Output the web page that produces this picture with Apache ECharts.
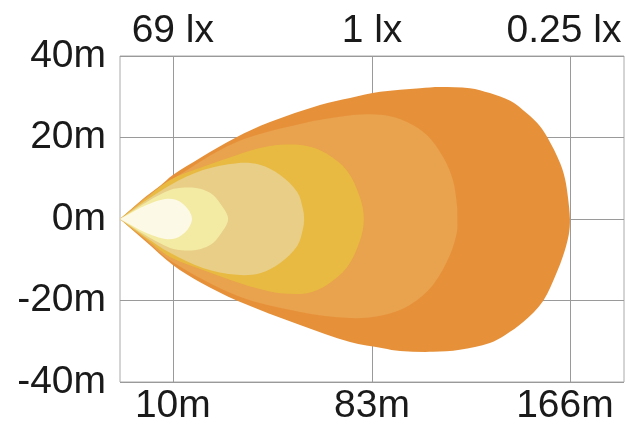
<!DOCTYPE html>
<html>
<head>
<meta charset="utf-8">
<script src="https://cdn.jsdelivr.net/npm/echarts@6/dist/echarts.min.js"></script>
<style>
html,body{margin:0;padding:0;background:#fff;}
#chart{width:640px;height:430px;}
</style>
</head>
<body>
<div id="chart"></div>
<script>
// Axis ticks (x in chart metres along the beam, drawn equal-aspect with y)
var xTickValues = [13.0, 62.0, 110.7];
var xTickLabels = ['10m', '83m', '166m'];
var luxLabels = ['69 lx', '1 lx', '0.25 lx'];
var yTicks = [-40, -20, 0, 20, 40];

// Isolux contours: outline points [x, y], starting and ending at the lamp
var contour025 = [[0,0],[2.5,2.2],[6.2,5.4],[9.8,8.1],[13.0,10.8],[19.7,15.0],[28.3,19.9],[36.9,23.8],[49.2,28.0],[56.6,29.7],[64.0,31.2],[73.8,32.1],[78.7,32.4],[86.1,32.1],[91.0,30.9],[96.0,29.0],[99.2,26.7],[102.6,23.6],[105.1,20.1],[108.3,13.7],[109.5,9.8],[110.2,5.4],[110.7,0],
  [110.4,-3.9],[109.0,-9.1],[107.5,-13.0],[104.1,-20.1],[99.2,-25.3],[94.7,-28.5],[91.0,-30.4],[83.6,-32.1],[77.0,-32.6],[68.9,-32.4],[64.7,-31.7],[56.6,-30.2],[44.3,-26.0],[29.0,-20.1],[19.7,-15.5],[13.0,-11.3],[6.2,-5.4],[2.5,-2.2],[0,0]];
var contour1 = [[0,0],[2.5,2.1],[6.2,5.2],[13.0,9.8],[28.3,18.7],[44.3,23.3],[57.3,25.5],[64.7,25.5],[70.6,23.8],[75.5,20.6],[79.5,15.2],[81.9,9.6],[82.9,3.4],[83.0,0],
  [82.9,-3.2],[81.2,-8.8],[77.0,-16.2],[71.3,-21.1],[64.7,-23.6],[56.6,-24.3],[44.3,-22.8],[29.0,-18.9],[13.0,-10.6],[6.2,-5.0],[2.5,-2.0],[0,0]];
var contour3 = [[0,0],[2.5,2.0],[6.2,4.9],[12.3,9.6],[20.4,12.8],[28.8,15.7],[34.4,17.4],[39.4,18.2],[46.0,17.9],[50.9,16.0],[55.9,11.8],[59.0,5.4],[60.0,0],
  [59.0,-5.4],[55.9,-11.8],[50.9,-16.2],[46.0,-18.2],[39.4,-18.2],[34.4,-17.2],[28.8,-15.5],[20.4,-12.5],[12.3,-9.3],[6.2,-4.7],[2.5,-2.0],[0,0]];
var contour10 = [[0,0],[2.5,1.8],[6.2,4.4],[12.3,8.3],[20.4,12.0],[28.8,13.7],[34.4,13.3],[39.4,10.8],[43.6,6.6],[45.0,2.5],[45.3,0],
  [45.0,-2.5],[43.6,-6.6],[39.4,-10.8],[34.4,-13.3],[28.8,-13.7],[20.4,-12.0],[12.3,-8.3],[6.2,-4.4],[2.5,-1.8],[0,0]];
var contour30 = [[0,0],[2.5,1.6],[6.6,4.2],[12.3,7.1],[16.0,7.7],[19.7,7.4],[22.9,5.9],[25.3,2.9],[26.3,1.2],[26.6,0],
  [26.3,-1.2],[25.3,-2.9],[22.9,-5.9],[19.7,-7.4],[16.0,-7.7],[12.3,-7.1],[6.6,-4.2],[2.5,-1.6],[0,0]];
var contour69 = [[0,0],[2.5,1.35],[4.9,2.7],[7.9,4.0],[11.1,4.9],[13.5,4.8],[15.5,3.7],[17.0,2.0],[17.7,0],
  [17.0,-2.0],[15.5,-3.7],[13.5,-4.8],[11.1,-4.9],[7.9,-4.0],[4.9,-2.7],[2.5,-1.35],[0,0]];

var contours = [contour025, contour1, contour3, contour10, contour30, contour69];
var contourColors = ['#E6913A', '#E9A24D', '#E8BA41', '#E8CE87', '#F3EBA3', '#FDF9E7'];

var FONT = '"Liberation Sans", Arial, Helvetica, sans-serif';
var TXT = '#1a1a1a';
var FS = 39;

// Smooth (Catmull-Rom style) outline through pixel points; sharp at both ends (the lamp)
function smoothPath(p) {
  var n = p.length;
  function dist(a, b) { return Math.sqrt((a[0]-b[0])*(a[0]-b[0]) + (a[1]-b[1])*(a[1]-b[1])); }
  var tan = [];
  for (var i = 0; i < n; i++) {
    var a = p[Math.max(i - 1, 0)], b = p[Math.min(i + 1, n - 1)];
    var d = dist(a, b) || 1;
    tan.push([(b[0] - a[0]) / d, (b[1] - a[1]) / d]);
  }
  var s = 'M' + p[0][0].toFixed(2) + ' ' + p[0][1].toFixed(2);
  for (var j = 0; j < n - 1; j++) {
    var L = dist(p[j], p[j + 1]) / 3;
    var c1 = [p[j][0] + tan[j][0] * L, p[j][1] + tan[j][1] * L];
    var c2 = [p[j + 1][0] - tan[j + 1][0] * L, p[j + 1][1] - tan[j + 1][1] * L];
    s += 'C' + c1[0].toFixed(2) + ' ' + c1[1].toFixed(2) + ' ' + c2[0].toFixed(2) + ' ' + c2[1].toFixed(2) + ' ' + p[j + 1][0].toFixed(2) + ' ' + p[j + 1][1].toFixed(2);
  }
  return s + 'Z';
}

function makeSeries(outline, color) {
  return {
    type: 'custom',
    xAxisIndex: 0,
    yAxisIndex: 0,
    silent: true,
    clip: true,
    data: outline,
    renderItem: function (params, api) {
      if (params.dataIndex !== 0) return null;
      var pts = outline.map(function (p) { return api.coord(p); });
      return {
        type: 'path',
        shape: { pathData: smoothPath(pts) },
        style: { fill: color, stroke: null }
      };
    }
  };
}

var chart = echarts.init(document.getElementById('chart'), null, { renderer: 'canvas' });
chart.setOption({
  animation: false,
  backgroundColor: '#fff',
  grid: { left: 120, right: 16, top: 56, bottom: 48, show: true, borderColor: '#aaaaaa', borderWidth: 1, backgroundColor: 'transparent' },
  xAxis: [{
    type: 'value', position: 'bottom', min: 0, max: 124,
    axisLine: { show: false }, axisTick: { show: false, customValues: xTickValues },
    splitLine: { show: true, lineStyle: { color: '#9a9a9a', width: 1 } },
    axisLabel: {
      customValues: xTickValues, margin: 5, fontSize: FS, fontFamily: FONT, color: TXT,
      formatter: function (v) {
        var i = xTickValues.indexOf(v);
        var t = xTickLabels[i];
        return i === 2 ? '{r|' + t + '}' : t;
      },
      rich: { r: { fontSize: FS, fontFamily: FONT, color: TXT, padding: [0, 10, 0, 0] } }
    }
  }, {
    type: 'value', position: 'top', min: 0, max: 124,
    axisLine: { show: false }, axisTick: { show: false, customValues: xTickValues },
    splitLine: { show: false },
    axisLabel: {
      customValues: xTickValues, margin: 5, fontSize: FS, fontFamily: FONT, color: TXT,
      formatter: function (v) {
        var i = xTickValues.indexOf(v);
        var t = luxLabels[i];
        return i === 2 ? '{r|' + t + '}' : t;
      },
      rich: { r: { fontSize: FS, fontFamily: FONT, color: TXT, padding: [0, 12, 0, 0] } }
    }
  }],
  yAxis: {
    type: 'value', min: yTicks[0], max: yTicks[yTicks.length - 1], interval: 20,
    axisLine: { show: false }, axisTick: { show: false },
    splitLine: { show: true, lineStyle: { color: '#9a9a9a', width: 1 } },
    axisLabel: { margin: 14, fontSize: FS, fontFamily: FONT, color: TXT, formatter: function (v) { return v + 'm'; } }
  },
  series: contours.map(function (c, i) { return makeSeries(c, contourColors[i]); })
});
</script>
</body>
</html>
